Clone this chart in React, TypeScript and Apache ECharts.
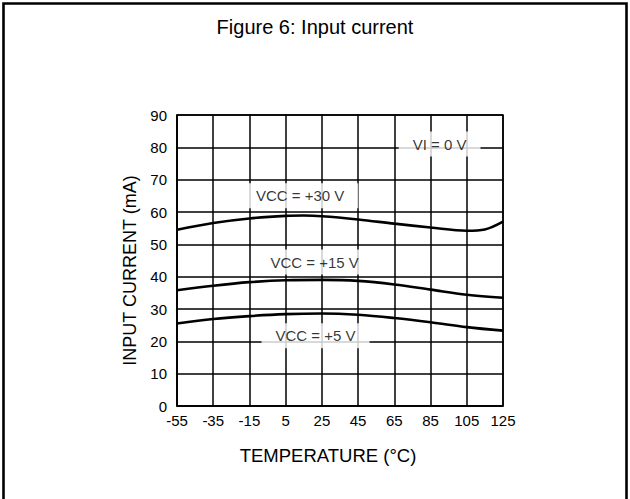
import React, { useEffect, useRef } from "react";
import * as echarts from "echarts";

const TITLE = "Figure 6: Input current";
const X_NAME = "TEMPERATURE (°C)";
const Y_NAME = "INPUT CURRENT (mA)";
const X_MIN = -55;
const X_MAX = 125;
const X_STEP = 20;
const Y_MIN = 0;
const Y_MAX = 90;
const Y_STEP = 10;

const TEMPS = [-55, -35, -15, 5, 25, 45, 65, 85, 105, 125];
const VCC30_TEMPS = [-55, -35, -15, 5, 15, 25, 45, 65, 85, 105, 115, 125];
const VCC30 = [54.5, 56.6, 58.0, 58.8, 58.9, 58.7, 57.7, 56.4, 55.2, 54.2, 54.6, 57.0];
const VCC15 = [35.8, 37.2, 38.3, 38.9, 39.0, 38.7, 37.6, 36.0, 34.4, 33.5];
const VCC5 = [25.5, 26.9, 27.8, 28.4, 28.6, 28.2, 27.2, 25.9, 24.4, 23.3];

const ANNOTATION_TEXT = ["VI = 0 V", "VCC = +30 V", "VCC = +15 V", "VCC = +5 V"];
const ANNOTATION_TEMP = [90, 13, 21, 21.5];
const ANNOTATION_CURRENT = [81, 65, 44.5, 21.7];

const FONT = "'Liberation Sans', Arial, Helvetica, sans-serif";

export default function App() {
  const ref = useRef<HTMLDivElement>(null);
  useEffect(() => {
    if (!ref.current) return;
    const chart = echarts.init(ref.current, undefined, { renderer: "svg" });
    const shift = (t: number) => t - X_MIN;
    const curve = (temps: number[], vals: number[]) =>
      vals.map((v, i) => [shift(temps[i]), v]);
    const lineSeries = (name: string, data: number[][]) => ({
      name,
      type: "line",
      data,
      smooth: 0.35,
      symbol: "none",
      lineStyle: { color: "#000", width: 2.6 },
      z: 3,
    });
    chart.setOption({
      animation: false,
      backgroundColor: "#fff",
      textStyle: { fontFamily: FONT, color: "#000" },
      title: {
        text: TITLE,
        left: "center",
        top: 12,
        padding: [5, 12, 5, 5],
        textStyle: { fontFamily: FONT, fontSize: 20, fontWeight: "normal", color: "#000" },
      },
      graphic: [
        {
          type: "rect",
          shape: { x: 3.5, y: 3.5, width: 623, height: 520 },
          style: { fill: "none", stroke: "#000", lineWidth: 2.6 },
          silent: true,
        },
      ],
      grid: {
        left: 177,
        right: 127,
        top: 115,
        bottom: 93,
        show: true,
        borderColor: "#000",
        borderWidth: 1.5,
      },
      xAxis: {
        type: "value",
        min: 0,
        max: X_MAX - X_MIN,
        interval: X_STEP,
        name: X_NAME,
        nameLocation: "middle",
        nameGap: 40,
        nameTextStyle: { fontFamily: FONT, fontSize: 18.5, color: "#000", padding: [0, 24, 0, 0] },
        axisLine: { show: true, lineStyle: { color: "#000", width: 1.5 } },
        axisTick: { show: false },
        axisLabel: {
          color: "#000",
          fontFamily: FONT,
          fontSize: 15,
          margin: 7,
          formatter: (v: number) => String(v + X_MIN),
        },
        splitLine: { show: true, lineStyle: { color: "#000", width: 1.5 } },
      },
      yAxis: {
        type: "value",
        min: Y_MIN,
        max: Y_MAX,
        interval: Y_STEP,
        name: Y_NAME,
        nameLocation: "middle",
        nameGap: 33,
        nameRotate: 90,
        nameTextStyle: { fontFamily: FONT, fontSize: 18, color: "#000", padding: [0, 20, 0, 0] },
        axisLine: { show: true, lineStyle: { color: "#000", width: 1.5 } },
        axisTick: { show: false },
        axisLabel: { color: "#000", fontFamily: FONT, fontSize: 15, margin: 10 },
        splitLine: { show: true, lineStyle: { color: "#000", width: 1.5 } },
      },
      series: [
        lineSeries("VCC = +30 V", curve(VCC30_TEMPS, VCC30)),
        lineSeries("VCC = +15 V", curve(TEMPS, VCC15)),
        lineSeries("VCC = +5 V", curve(TEMPS, VCC5)),
        {
          name: "annotations",
          type: "scatter",
          symbolSize: 1,
          itemStyle: { color: "rgba(0,0,0,0)" },
          zlevel: 1,
          z: 10,
          data: ANNOTATION_TEXT.map((t, i) => ({
            name: t,
            value: [shift(ANNOTATION_TEMP[i]), ANNOTATION_CURRENT[i]],
          })),
          label: {
            show: true,
            position: "inside",
            formatter: "{b}",
            color: "#000",
            fontFamily: FONT,
            fontSize: 15,
            backgroundColor: "#fff",
            padding: [5, 14],
          },
        },
      ],
    });
    return () => chart.dispose();
  }, []);
  return (
    <div
      ref={ref}
      style={{ position: "fixed", left: 0, top: 0, width: 630, height: 499 }}
    />
  );
}
